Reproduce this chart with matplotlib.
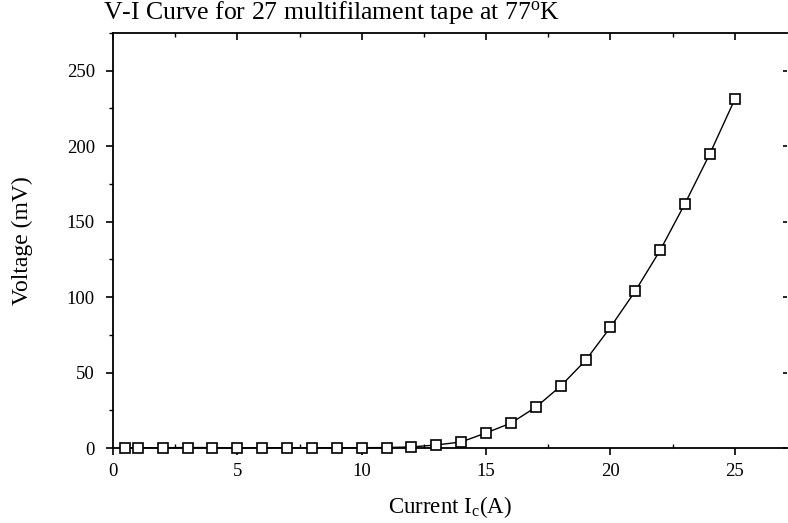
import matplotlib
matplotlib.use("Agg")
import matplotlib.pyplot as plt
from matplotlib.ticker import MultipleLocator

# Measured V-I data for the multifilament tape
current_a = [0.5, 1, 2, 3, 4, 5, 6, 7, 8, 9, 10, 11, 12, 13,
             14, 15, 16, 17, 18, 19, 20, 21, 22, 23, 24, 25]
voltage_mv = [0.2, 0.2, 0.2, 0.3, 0.3, 0.0, 0.2, 0.2, 0.2, 0.1, 0.2, 0.3, 0.7, 2.0,
              4.0, 10.0, 16.5, 27.0, 41.0, 58.0, 80.0, 104.0, 131.0, 162.0, 195.0, 231.0]

x_ticks = [0, 5, 10, 15, 20, 25]
y_ticks = [0, 50, 100, 150, 200, 250]

plt.rcParams["font.family"] = ["Liberation Serif", "DejaVu Serif"]
plt.rcParams["mathtext.fontset"] = "custom"
plt.rcParams["mathtext.rm"] = "Liberation Serif"
plt.rcParams["mathtext.it"] = "Liberation Serif"

fig = plt.figure(figsize=(7.88, 5.23), dpi=100)
ax = fig.add_axes([0.1434, 0.1434, 0.8553, 0.7935])

ax.plot(current_a, voltage_mv, color="black", linewidth=1.0,
        marker="s", markersize=7.5, markerfacecolor="white",
        markeredgecolor="black", markeredgewidth=1.2, clip_on=False, zorder=3)

ax.set_xlim(0, 27.1)
ax.set_ylim(0, 275)
ax.set_xticks(x_ticks)
ax.set_yticks(y_ticks)
ax.xaxis.set_minor_locator(MultipleLocator(2.5))
ax.yaxis.set_minor_locator(MultipleLocator(25))

ax.spines["right"].set_visible(False)
for s in ["left", "bottom", "top"]:
    ax.spines[s].set_linewidth(1.3)

ax.tick_params(axis="x", which="major", direction="out", length=5, width=1.2,
               top=True, labelsize=13.5, pad=6)
ax.tick_params(axis="x", which="minor", direction="in", length=3, width=1.0, top=True)
ax.tick_params(axis="y", which="major", direction="out", length=5, width=1.2,
               right=True, labelsize=13.5, pad=8)
ax.tick_params(axis="y", which="minor", direction="out", length=3, width=1.0, right=False)
for t in ax.xaxis.get_major_ticks():
    t.tick2line.set_marker(3)  # top ticks point into the plot
for t in ax.yaxis.get_major_ticks():
    t.tick2line.set_marker(0)  # right ticks point into the plot
    t.tick2line.set_markersize(3)

ax.set_xlabel("Current I$_\\mathrm{c}$(A)", fontsize=16.5, labelpad=10)
ax.set_ylabel("Voltage (mV)", fontsize=17, labelpad=24)
fig.text(0.131, 0.977, "V-I Curve for 27 multifilament tape at 77$^\\mathrm{o}$K",
         fontsize=18.5, ha="left", va="center")

fig.savefig("out.png", dpi=100)
